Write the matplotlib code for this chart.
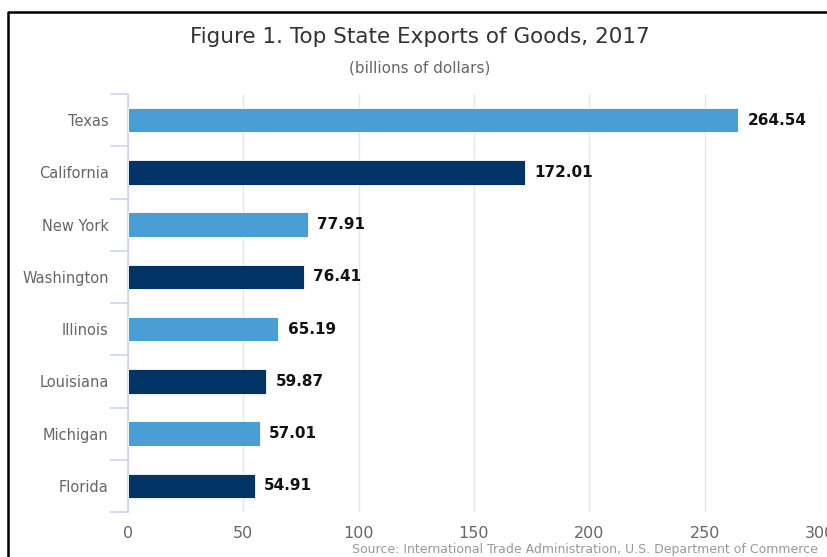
import matplotlib.pyplot as plt
from matplotlib.lines import Line2D

states = ['Texas', 'California', 'New York', 'Washington',
          'Illinois', 'Louisiana', 'Michigan', 'Florida']
exports = [264.54, 172.01, 77.91, 76.41, 65.19, 59.87, 57.01, 54.91]
bar_colors = ['#4a9ed6', '#003366'] * 4
x_ticks = [0, 50, 100, 150, 200, 250, 300]

W, H = 827, 557
fig = plt.figure(figsize=(W / 100, H / 100), dpi=100)
ax = fig.add_axes([128 / W, 1 - 512 / H, (820 - 128) / W, (512 - 94) / H])

ypos = range(len(states))
ax.barh(ypos, exports, height=0.47, color=bar_colors,
        edgecolor='white', linewidth=0.6, zorder=3)
for y, v in zip(ypos, exports):
    ax.text(v + 4, y, f'{v:.2f}', va='center', ha='left',
            fontsize=11, fontweight='bold', color='#111111')

ax.set_xlim(0, 300)
ax.set_ylim(len(states) - 0.5, -0.5)
ax.set_xticks(x_ticks)
ax.set_xticklabels([str(t) for t in x_ticks], fontsize=11.5, color='#666666')
ax.tick_params(axis='x', length=0, pad=10)

# category labels at centers, tick marks at band edges
ax.set_yticks(list(ypos))
ax.set_yticklabels(states, fontsize=10.5, color='#666666')
ax.tick_params(axis='y', which='major', length=0, pad=14)
ax.set_yticks([i - 0.5 for i in range(len(states) + 1)], minor=True)
ax.tick_params(axis='y', which='minor', length=13, width=1.2, color='#ccd6eb')

ax.grid(axis='x', color='#e6e6e6', linewidth=1, zorder=0)
for side in ['top', 'right', 'bottom']:
    ax.spines[side].set_visible(False)
ax.spines['left'].set_color('#ccd6eb')
ax.spines['left'].set_linewidth(1.2)

fig.text(420 / W, 1 - 37 / H, 'Figure 1. Top State Exports of Goods, 2017',
         ha='center', va='center', fontsize=15.5, color='#333333')
fig.text(420 / W, 1 - 68 / H, '(billions of dollars)',
         ha='center', va='center', fontsize=11, color='#666666')
fig.text(818 / W, 1 - 549 / H,
         'Source: International Trade Administration, U.S. Department of Commerce',
         ha='right', va='center', fontsize=9, color='#999999')

# outer frame on the left and top
fig.add_artist(Line2D([8 / W, 8 / W, 1], [0, 1 - 12 / H, 1 - 12 / H],
                      transform=fig.transFigure, color='black', linewidth=1.8))

fig.savefig('out.png', dpi=100)
